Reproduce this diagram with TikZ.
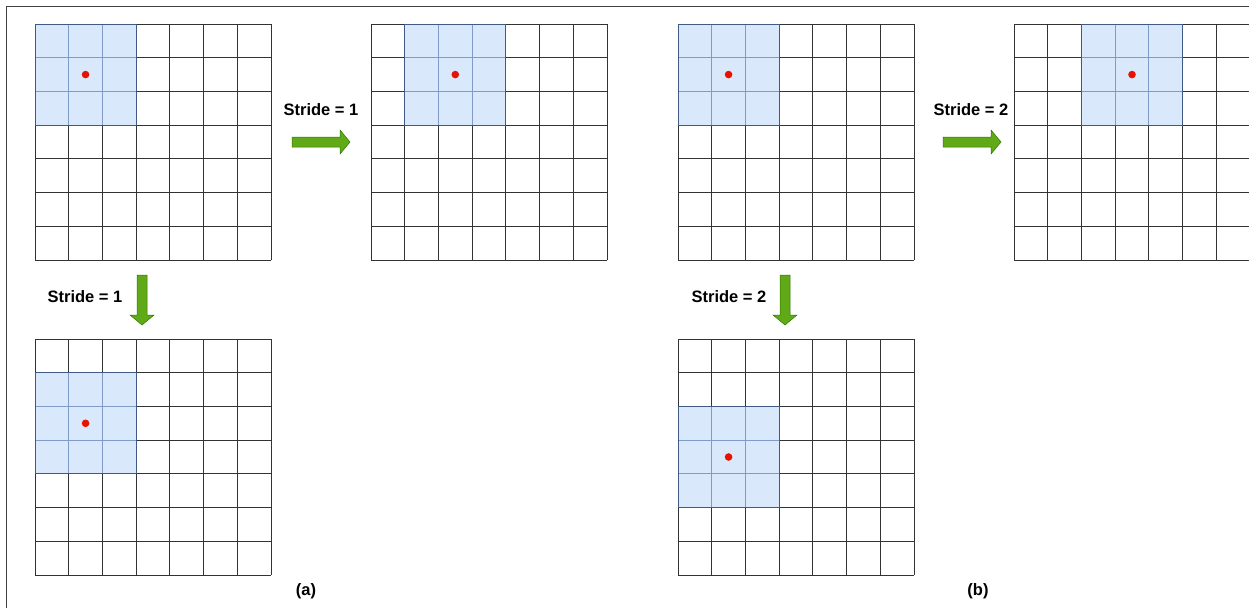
\documentclass[tikz,border=0pt]{standalone}
\usepackage{fontspec}
\setmainfont{Liberation Sans}
\definecolor{hlfill}{HTML}{DAE8FC}
\definecolor{hlline}{HTML}{7F9CC8}
\definecolor{hlborder}{HTML}{3F5A85}
\definecolor{arrgreen}{HTML}{60A917}
\definecolor{arrdark}{HTML}{2D7600}
\definecolor{dotred}{HTML}{E51400}
\definecolor{framegray}{HTML}{404040}
\tikzset{
  gridbox/.style={draw=none, minimum size=236pt, inner sep=0pt},
  gridline/.style={draw=black!80, line width=0.9pt},
  hlinner/.style={draw=hlline, line width=0.9pt},
  hlouter/.style={draw=hlborder, line width=1pt},
  stridelabel/.style={font=\fontsize{16.5}{19}\selectfont\bfseries, inner sep=0pt},
  caplabel/.style={font=\fontsize{16.5}{19}\selectfont\bfseries, inner sep=0pt},
  blockarrow/.style={fill=arrgreen, draw=arrdark, line width=0.5pt, line join=miter},
  frameline/.style={draw=framegray, line width=1pt}
}
\newcommand{\cellsz}{33.714}
\newcommand{\convgrid}[5]{%
  \begin{scope}[shift={(#2,#3)}]
    \node[gridbox] (#1) at (118,118) {};
    \foreach \i in {0,...,7} {
      \draw[gridline] (\i*\cellsz,0) -- (\i*\cellsz,236);
      \draw[gridline] (0,\i*\cellsz) -- (236,\i*\cellsz);
    }
    \fill[hlfill] (#4*\cellsz,#5*\cellsz) rectangle ++(3*\cellsz,3*\cellsz);
    \foreach \j in {1,2} {
      \draw[hlinner] ({(#4+\j)*\cellsz},{#5*\cellsz}) -- ++(0,3*\cellsz);
      \draw[hlinner] ({#4*\cellsz},{(#5+\j)*\cellsz}) -- ++(3*\cellsz,0);
    }
    \draw[hlouter] (#4*\cellsz,#5*\cellsz) rectangle ++(3*\cellsz,3*\cellsz);
    \fill[dotred] ({(#4+1.5)*\cellsz},{(#5+1.5)*\cellsz}) circle (3.8);
  \end{scope}}
\newcommand{\rightblock}[2]{% tail x, center y
  \draw[blockarrow] (#1,#2-5) -- ++(48,0) -- ++(0,-7) -- ++(10,12) -- ++(-10,12) -- ++(0,-7) -- ++(-48,0) -- cycle;}
\newcommand{\downblock}[2]{% center x, top y
  \draw[blockarrow] (#1-5,#2) -- ++(10,0) -- ++(0,40) -- ++(7,0) -- ++(-12,10) -- ++(-12,-10) -- ++(7,0) -- cycle;}
\begin{document}
\begin{tikzpicture}[x=1pt,y=-1pt]
  \useasboundingbox (0,0) rectangle (1249,608);
  \draw[frameline] (6,608) -- (6,6) -- (1249,6);
  % (a)
  \convgrid{a1}{35}{24}{0}{0}
  \convgrid{a2}{371}{24}{1}{0}
  \convgrid{a3}{35}{339}{0}{1}
  \node[stridelabel] (la1) at (321,110) {Stride = 1};
  \rightblock{292}{142}
  \node[stridelabel] (la2) at (85,297) {Stride = 1};
  \downblock{142}{275}
  \node[caplabel] (capa) at (306,591) {(a)};
  % (b)
  \convgrid{b1}{678}{24}{0}{0}
  \convgrid{b2}{1014}{24}{2}{0}
  \convgrid{b3}{678}{339}{0}{2}
  \node[stridelabel] (lb1) at (971,110) {Stride = 2};
  \rightblock{943}{142}
  \node[stridelabel] (lb2) at (729,297) {Stride = 2};
  \downblock{785}{275}
  \node[caplabel] (capb) at (978,591) {(b)};
\end{tikzpicture}
\end{document}
